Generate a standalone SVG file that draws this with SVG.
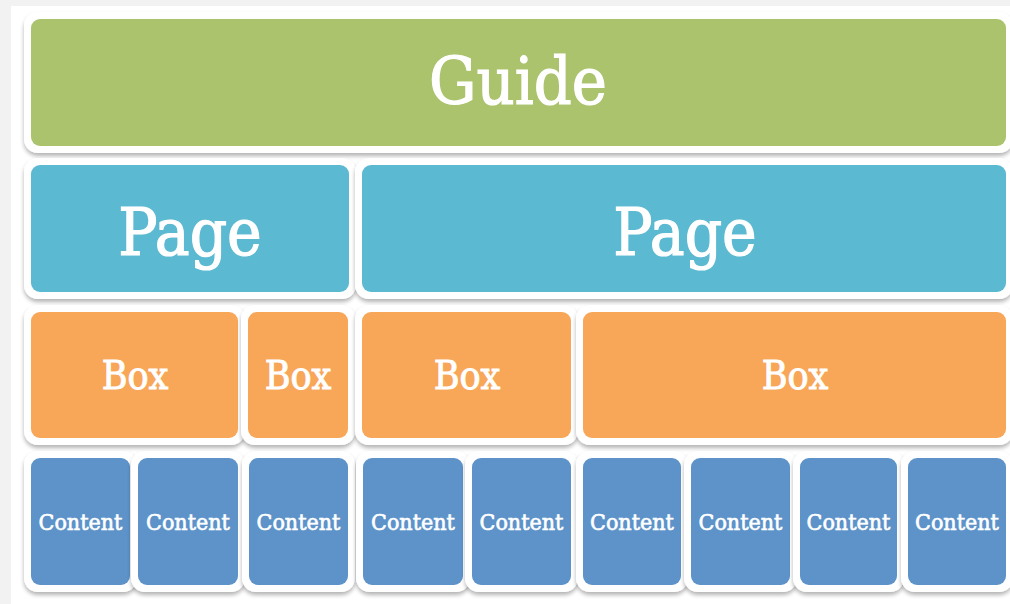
<svg xmlns="http://www.w3.org/2000/svg" width="1010" height="604" viewBox="0 0 1010 604">
<defs>
<filter id="sh" x="-10%" y="-10%" width="120%" height="130%">
<feGaussianBlur in="SourceAlpha" stdDeviation="2"/>
<feOffset dy="3" result="b"/>
<feComponentTransfer><feFuncA type="linear" slope="0.3"/></feComponentTransfer>
<feMerge><feMergeNode/><feMergeNode in="SourceGraphic"/></feMerge>
</filter>
<style>
.frame{fill:#ffffff;filter:url(#sh)}
.guide{fill:#aac36c}
.page{fill:#5bb9d1}
.box{fill:#f8a658}
.content{fill:#5d93c9}
text{font-family:"DejaVu Serif Condensed","Liberation Serif",serif;font-stretch:condensed;fill:#ffffff;stroke:#ffffff;text-anchor:middle}
.tg{font-size:66px;stroke-width:1.2}
.tp{font-size:65px;stroke-width:1.2}
.tb{font-size:39px;stroke-width:0.9}
.tc{font-size:23px;stroke-width:0.6}
</style>
</defs>
<rect width="1010" height="604" fill="#f2f2f2"/>
<rect x="11" y="6" width="999" height="598" fill="#ffffff"/>
<g id="connectors"/>
<g id="guide"><rect class="frame" x="24" y="12" width="989" height="141" rx="14"/><rect class="guide" x="31" y="19" width="975" height="127" rx="9"/><text class="tg" x="518" y="104">Guide</text></g>
<g id="page1"><rect class="frame" x="24" y="158" width="332" height="141" rx="14"/><rect class="page" x="31" y="165" width="318" height="127" rx="9"/><text class="tp" x="190" y="255">Page</text></g>
<g id="page2"><rect class="frame" x="355" y="158" width="658" height="141" rx="14"/><rect class="page" x="362" y="165" width="644" height="127" rx="9"/><text class="tp" x="685" y="255">Page</text></g>
<g id="box1"><rect class="frame" x="24" y="305" width="221" height="140" rx="14"/><rect class="box" x="31" y="312" width="207" height="126" rx="9"/><text class="tb" x="135" y="389">Box</text></g>
<g id="box2"><rect class="frame" x="241" y="305" width="114" height="140" rx="14"/><rect class="box" x="248" y="312" width="100" height="126" rx="9"/><text class="tb" x="298" y="389">Box</text></g>
<g id="box3"><rect class="frame" x="355" y="305" width="223" height="140" rx="14"/><rect class="box" x="362" y="312" width="209" height="126" rx="9"/><text class="tb" x="467" y="389">Box</text></g>
<g id="box4"><rect class="frame" x="576" y="305" width="437" height="140" rx="14"/><rect class="box" x="583" y="312" width="423" height="126" rx="9"/><text class="tb" x="795" y="389">Box</text></g>
<g id="content1"><rect class="frame" x="24" y="451" width="113" height="141" rx="14"/><rect class="content" x="31" y="458" width="99" height="127" rx="9"/><text class="tc" x="80.5" y="530">Content</text></g>
<g id="content2"><rect class="frame" x="131" y="451" width="114" height="141" rx="14"/><rect class="content" x="138" y="458" width="100" height="127" rx="9"/><text class="tc" x="188" y="530">Content</text></g>
<g id="content3"><rect class="frame" x="242" y="451" width="113" height="141" rx="14"/><rect class="content" x="249" y="458" width="99" height="127" rx="9"/><text class="tc" x="298.5" y="530">Content</text></g>
<g id="content4"><rect class="frame" x="356" y="451" width="114" height="141" rx="14"/><rect class="content" x="363" y="458" width="100" height="127" rx="9"/><text class="tc" x="413" y="530">Content</text></g>
<g id="content5"><rect class="frame" x="465" y="451" width="113" height="141" rx="14"/><rect class="content" x="472" y="458" width="99" height="127" rx="9"/><text class="tc" x="521.5" y="530">Content</text></g>
<g id="content6"><rect class="frame" x="576" y="451" width="112" height="141" rx="14"/><rect class="content" x="583" y="458" width="98" height="127" rx="9"/><text class="tc" x="632" y="530">Content</text></g>
<g id="content7"><rect class="frame" x="684" y="451" width="113" height="141" rx="14"/><rect class="content" x="691" y="458" width="99" height="127" rx="9"/><text class="tc" x="740.5" y="530">Content</text></g>
<g id="content8"><rect class="frame" x="793" y="451" width="111" height="141" rx="14"/><rect class="content" x="800" y="458" width="97" height="127" rx="9"/><text class="tc" x="848.5" y="530">Content</text></g>
<g id="content9"><rect class="frame" x="901" y="451" width="112" height="141" rx="14"/><rect class="content" x="908" y="458" width="98" height="127" rx="9"/><text class="tc" x="957" y="530">Content</text></g>
</svg>
